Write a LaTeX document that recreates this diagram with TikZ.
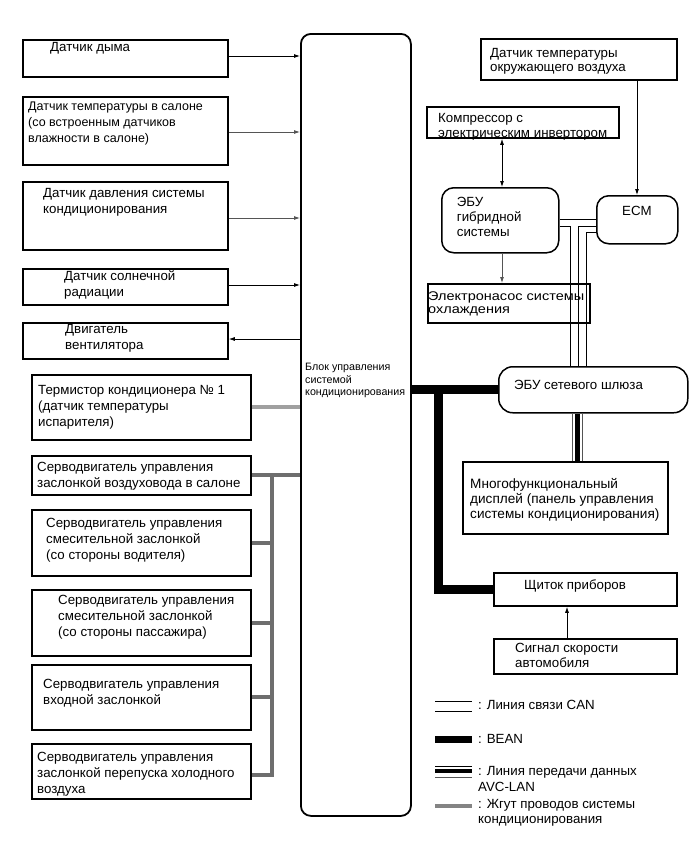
\documentclass[tikz,border=0pt]{standalone}
\usepackage{fontspec}
\setmainfont{Liberation Sans}
\usetikzlibrary{arrows.meta}
\definecolor{harngray}{HTML}{6E6E6E}
\definecolor{thermgray}{HTML}{A0A0A0}
\definecolor{linegray}{HTML}{555555}
\tikzset{
  sq/.style={draw, line width=1.8pt, anchor=north west, inner sep=0pt},
  rd/.style={draw, line width=1.5pt, anchor=north west, inner sep=0pt, rounded corners=12pt},
  tx/.style={anchor=base west, inner sep=0pt, font=\fontsize{13.3}{16}\selectfont},
  arr/.style={line width=0.8pt, -{Latex[length=6pt,width=4pt]}},
  darr/.style={line width=0.8pt, {Latex[length=6pt,width=4pt]}-{Latex[length=6pt,width=4pt]}},
  can/.style={line width=1pt},
  bean/.style={line width=9pt},
  harn/.style={line width=4pt, color=harngray},
  therm/.style={line width=4pt, color=thermgray},
}
\newcommand\ml[1]{\begin{tabular}[t]{@{}l@{}}#1\end{tabular}}
\begin{document}
\begin{tikzpicture}[x=1pt,y=-1pt]
\useasboundingbox (0,0) rectangle (691,855);
% left boxes
\node[sq, minimum width=205pt, minimum height=37pt] (b1) at (22,39) {};
\node[sq, minimum width=205pt, minimum height=68pt] (b2) at (22,96) {};
\node[sq, minimum width=205pt, minimum height=68pt] (b3) at (22,181) {};
\node[sq, minimum width=205pt, minimum height=36pt] (b4) at (22,268) {};
\node[sq, minimum width=205pt, minimum height=36pt] (b5) at (22,322) {};
\node[sq, minimum width=219pt, minimum height=65pt] (th) at (31,374) {};
\node[sq, minimum width=219pt, minimum height=39pt] (s1) at (31,455) {};
\node[sq, minimum width=219pt, minimum height=66pt] (s2) at (31,509) {};
\node[sq, minimum width=219pt, minimum height=66pt] (s3) at (31,589) {};
\node[sq, minimum width=219pt, minimum height=65pt] (s4) at (31,664) {};
\node[sq, minimum width=219pt, minimum height=55pt] (s5) at (31,743) {};
% central
\node[rd, rounded corners=10pt, line width=1.8pt, minimum width=110pt, minimum height=782pt] (cb) at (300,33) {};
% right boxes
\node[sq, minimum width=196pt, minimum height=41pt] (amb) at (480,38) {};
\node[sq, minimum width=192pt, minimum height=31pt] (comp) at (426,106) {};
\node[rd, minimum width=117pt, minimum height=65pt] (hyb) at (441,187) {};
\node[rd, minimum width=81pt, minimum height=48pt] (ecm) at (596,195) {};
\node[sq, minimum width=162pt, minimum height=39pt] (pump) at (427,283) {};
\node[rd, rounded corners=14pt, minimum width=189pt, minimum height=46pt] (gw) at (498,366) {};
\node[sq, minimum width=205pt, minimum height=72pt] (disp) at (462,461) {};
\node[sq, minimum width=183pt, minimum height=33pt] (clu) at (493,572) {};
\node[sq, minimum width=183pt, minimum height=35pt] (spd) at (493,638) {};
% texts
\node[tx] (t1) at (50,51.8) {Датчик дыма};
\node[tx, font=\fontsize{12.5}{16.3}\selectfont] (t2) at (28,110.2) {\ml{Датчик температуры в салоне\\(со встроенным датчиков\\влажности в салоне)}};
\node[tx] (t3) at (43,197.8) {\ml{Датчик давления системы\\кондиционирования}};
\node[tx] (t4) at (64,280.5) {\ml{Датчик солнечной\\радиации}};
\node[tx] (t5) at (65,333.8) {\ml{Двигатель\\вентилятора}};
\node[tx] (tth) at (38,394.5) {\ml{Термистор кондиционера № 1\\(датчик температуры\\испарителя)}};
\node[tx] (ts1) at (37,471.5) {\ml{Серводвигатель управления\\заслонкой воздуховода в салоне}};
\node[tx] (ts2) at (46,527.8) {\ml{Серводвигатель управления\\смесительной заслонкой\\(со стороны водителя)}};
\node[tx] (ts3) at (58,604.5) {\ml{Серводвигатель управления\\смесительной заслонкой\\(со стороны пассажира)}};
\node[tx] (ts4) at (43,688.5) {\ml{Серводвигатель управления\\входной заслонкой}};
\node[tx, font=\fontsize{13.3}{16.3}\selectfont] (ts5) at (37,761.2) {\ml{Серводвигатель управления\\заслонкой перепуска холодного\\воздуха}};
\node[tx, font=\fontsize{10.7}{12.8}\selectfont] (tcb) at (305,370.3) {\ml{Блок управления\\системой\\кондиционирования}};
\node[tx, font=\fontsize{13.3}{14}\selectfont] (tamb) at (490,57.8) {\ml{Датчик температуры\\окружающего воздуха}};
\node[tx, font=\fontsize{13.3}{15}\selectfont] (tcomp) at (438,122.8) {\ml{Компрессор с\\электрическим инвертором}};
\node[tx, font=\fontsize{13.3}{15}\selectfont] (thyb) at (456.7,206.2) {\ml{ЭБУ\\гибридной\\системы}};
\node[tx, anchor=base] (tecm) at (637,215.2) {ECM};
\node[tx, font=\fontsize{12.6}{13}\selectfont\addfontfeature{FakeStretch=1.15}] (tpump) at (428,300) {\ml{Электронасос системы\\охлаждения}};
\node[tx, anchor=base] (tgw) at (578.5,389.5) {ЭБУ сетевого шлюза};
\node[tx, font=\fontsize{13.6}{15}\selectfont] (tdisp) at (470,488.8) {\ml{Многофункциональный\\дисплей (панель управления\\системы кондиционирования)}};
\node[tx] (tclu) at (524,589.5) {Щиток приборов};
\node[tx, font=\fontsize{13.3}{15}\selectfont] (tspd) at (515,652.8) {\ml{Сигнал скорости\\автомобиля}};
% legend texts
\node[tx] (lcan) at (478,709.5) {: Линия связи CAN};
\node[tx] (lbean) at (478,743.5) {: BEAN};
\node[tx] (lavc) at (478,775.5) {\ml{: Линия передачи данных\\AVC-LAN}};
\node[tx, font=\fontsize{13.3}{15}\selectfont] (lharn) at (478,808.5) {\ml{: Жгут проводов системы\\кондиционирования}};
% left connectors
\coordinate (y1) at (0,56);
\coordinate (y2) at (0,132);
\coordinate (y3) at (0,218);
\coordinate (y4) at (0,285);
\coordinate (y5) at (0,339);
\draw[arr] (b1.east|-y1) -- (cb.west|-y1);
\draw[arr, linegray] (b2.east|-y2) -- (cb.west|-y2);
\draw[arr, linegray] (b3.east|-y3) -- (cb.west|-y3);
\draw[arr] (b4.east|-y4) -- (cb.west|-y4);
\draw[arr] (cb.west|-y5) -- (b5.east|-y5);
\draw[therm] (th.east) -- (th.east -| cb.west);
% harness bus
\coordinate (hb1) at (272,474.5);
\coordinate (hb5) at (272,775);
\draw[harn] (s1.east) -- (s1.east -| cb.west);
\draw[harn, line join=miter] (hb1) -- (hb5) -- (hb5 -| s5.east);
\draw[harn] (s2.east) -- (s2.east -| hb1);
\draw[harn] (s3.east) -- (s3.east -| hb1);
\draw[harn] (s4.east) -- (s4.east -| hb1);
% BEAN
\coordinate (bj) at (438,389);
\draw[bean] (gw.west -| cb.east) -- (gw.west);
\draw[bean, line join=miter] (bj) -- (bj |- clu.west) -- (clu.west);
% right arrows
\coordinate (xc) at (502,0);
\coordinate (xe) at (637,0);
\coordinate (xs) at (567,0);
\draw[darr] (comp.south -| xc) -- (hyb.north -| xc);
\draw[arr, linegray] (hyb.south -| xc) -- (pump.north -| xc);
\draw[arr] (amb.south -| xe) -- (ecm.north -| xe);
\draw[arr] (spd.north -| xs) -- (clu.south -| xs);
% CAN
\coordinate (cA) at (0,219);
\coordinate (cB) at (0,226);
\coordinate (cC) at (0,232);
\coordinate (v1) at (570,0);
\coordinate (v2) at (578,0);
\coordinate (v3) at (586,0);
\draw[can] (hyb.east|-cA) -- (ecm.west|-cA);
\draw[can] (hyb.east|-cB) -- (v1|-cB) -- (v1|-gw.north);
\draw[can] (ecm.west|-cB) -- (v2|-cB) -- (v2|-gw.north);
\draw[can] (ecm.west|-cC) -- (v3|-cC) -- (v3|-gw.north);
% AVC-LAN
\coordinate (a1) at (572,0);
\coordinate (a2) at (577,0);
\coordinate (a3) at (582,0);
\draw[line width=0.9pt, linegray] (gw.south -| a1) -- (disp.north -| a1);
\draw[line width=5pt] (gw.south -| a2) -- (disp.north -| a2);
\draw[line width=0.9pt, linegray] (gw.south -| a3) -- (disp.north -| a3);
% legend symbols
\draw[can] (435,701) -- (472,701);
\draw[can] (435,711) -- (472,711);
\fill (435,736) rectangle (472,743);
\draw[line width=1pt] (435,766.5) -- (472,766.5);
\draw[line width=3.5pt] (435,771) -- (472,771);
\draw[line width=1pt, linegray] (435,777) -- (472,777);
\draw[line width=4pt, harngray!85] (435,806) -- (472,806);
\end{tikzpicture}
\end{document}
